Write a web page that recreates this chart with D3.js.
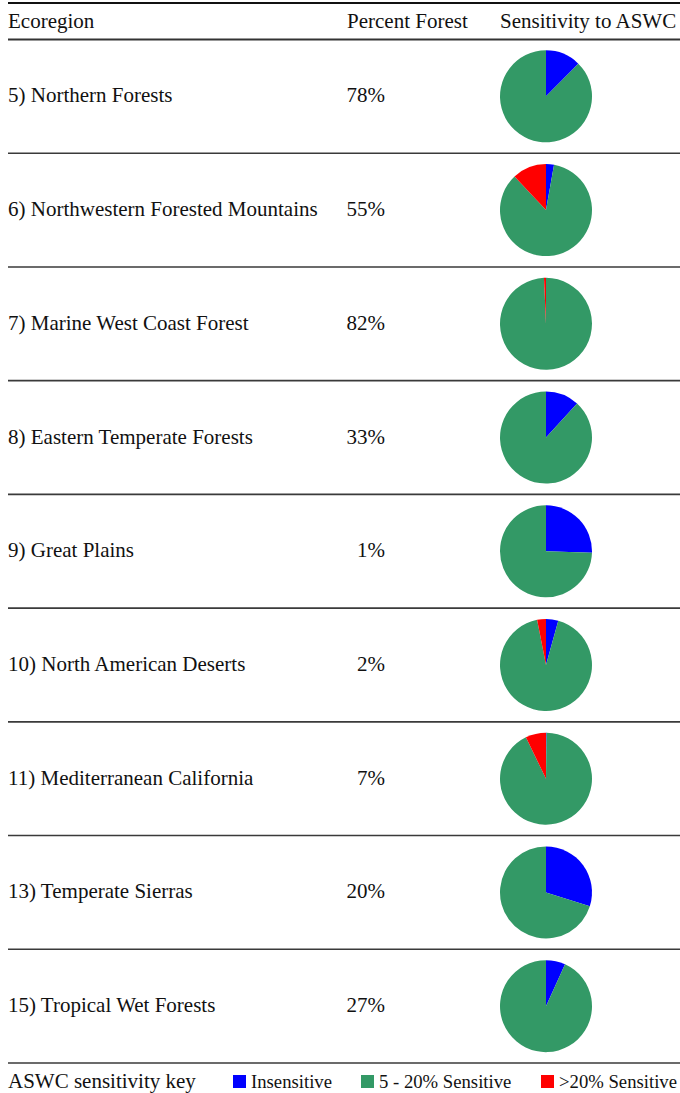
<!DOCTYPE html>
<html>
<head>
<meta charset="utf-8">
<script src="https://cdn.jsdelivr.net/npm/d3@7"></script>
<style>
  html, body { margin: 0; padding: 0; background: #fff; }
  svg { display: block; }
  text { font-family: "Liberation Serif", "Times New Roman", serif; fill: #111; }
</style>
</head>
<body>
<svg id="chart" width="680" height="1093"></svg>
<script>
const regions = [
  "5) Northern Forests",
  "6) Northwestern Forested Mountains",
  "7) Marine West Coast Forest",
  "8) Eastern Temperate Forests",
  "9) Great Plains",
  "10) North American Deserts",
  "11) Mediterranean California",
  "13) Temperate Sierras",
  "15) Tropical Wet Forests"
];
const percentForest = [78, 55, 82, 33, 1, 2, 7, 20, 27];
const insensitive   = [12.4, 2.8, 0, 11.8, 25.5, 4.3, 0.2, 29.9, 6.8];
const sensitive     = [87.6, 85.2, 99.3, 88.2, 74.5, 92.6, 92.6, 70.1, 93.2];
const highSensitive = [0, 12.0, 0.7, 0, 0, 3.1, 7.2, 0, 0];
const classes = ["Insensitive", "5 - 20% Sensitive", ">20% Sensitive"];
const headers = ["Ecoregion", "Percent Forest", "Sensitivity to ASWC"];
const legendTitle = "ASWC sensitivity key";

const color = d3.scaleOrdinal().domain(classes).range(["#0000ff", "#339966", "#ff0000"]);

const svg = d3.select("#chart");
const W = 680, left = 8;
const y = d3.scaleBand().domain(regions).range([39.5, 1063]);

// top rule and header
svg.append("line").attr("x1", left).attr("x2", W).attr("y1", 3).attr("y2", 3)
  .attr("stroke", "#111").attr("stroke-width", 2.2);
const hx = [left, 347, 500];
svg.selectAll("text.hdr").data(headers).join("text").attr("class", "hdr")
  .attr("x", (d, i) => hx[i]).attr("y", 28).attr("font-size", 21).text(d => d);
svg.append("line").attr("x1", left).attr("x2", W).attr("y1", 39.5).attr("y2", 39.5)
  .attr("stroke", "#333").attr("stroke-width", 2);

// rows
const rows = svg.selectAll("g.row").data(regions).join("g").attr("class", "row")
  .attr("transform", d => `translate(0,${y(d) + y.bandwidth() / 2})`);

rows.append("text").attr("x", left).attr("y", 6).attr("font-size", 21).text(d => d);
rows.append("text").attr("x", 385).attr("y", 6).attr("font-size", 21)
  .attr("text-anchor", "end").text((d, i) => percentForest[i] + "%");

// separator lines
svg.selectAll("line.sep").data(regions).join("line").attr("class", "sep")
  .attr("x1", left).attr("x2", W)
  .attr("y1", d => y(d) + y.bandwidth()).attr("y2", d => y(d) + y.bandwidth())
  .attr("stroke", "#3a3a3a").attr("stroke-width", 1.6);

// pies
const pie = d3.pie().sort(null).value(d => d.v);
const arc = d3.arc().innerRadius(0).outerRadius(46);
rows.each(function(d, i) {
  const vals = [
    {k: classes[0], v: insensitive[i]},
    {k: classes[1], v: sensitive[i]},
    {k: classes[2], v: highSensitive[i]}
  ];
  d3.select(this).append("g").attr("transform", "translate(546,0)")
    .selectAll("path").data(pie(vals)).join("path")
    .attr("d", arc).attr("fill", p => color(p.data.k));
});

// legend
const ly = 1088;
svg.append("text").attr("x", left).attr("y", ly).attr("font-size", 21).text(legendTitle);
const lx = [233, 361, 541];
const lg = svg.selectAll("g.leg").data(classes).join("g").attr("class", "leg")
  .attr("transform", (d, i) => `translate(${lx[i]},${ly})`);
lg.append("rect").attr("x", 0).attr("y", -13).attr("width", 13).attr("height", 13)
  .attr("fill", d => color(d));
lg.append("text").attr("x", 18).attr("y", 0).attr("font-size", 18.7).text(d => d);
</script>
</body>
</html>
